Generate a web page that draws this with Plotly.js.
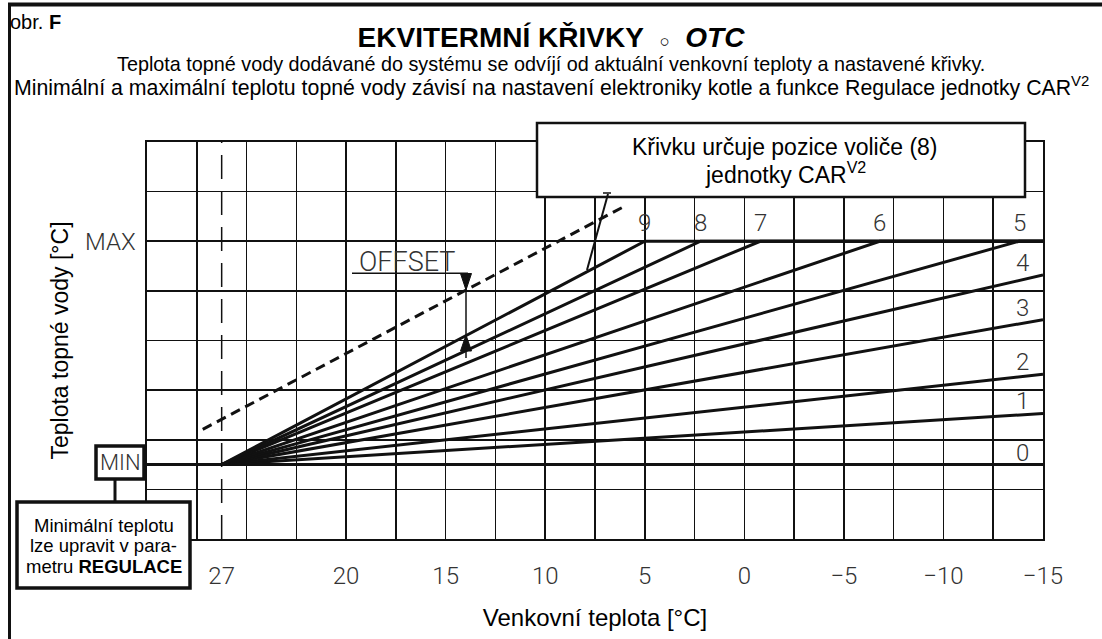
<!DOCTYPE html>
<html>
<head>
<meta charset="utf-8">
<script src="https://cdn.plot.ly/plotly-3.0.1.min.js"></script>
<style>html,body{margin:0;padding:0;background:#fff;overflow:hidden;}#chart{width:1102px;height:639px;}</style>
</head>
<body>
<div id="chart"></div>
<script>
// ---------- data ----------
const xTickVals = [26.25, 20, 15, 10, 5, 0, -5, -10, -15];
const xTickText = ['27', '20', '15', '10', '5', '0', '\u22125', '\u221210', '\u221215'];
const curveNames = ['0', '1', '2', '3', '4', '5', '6', '7', '8', '9'];
const kneeTemp = 26.25;          // outdoor temperature where curves start (labelled 27)
const minLevel = 1.5;            // MIN flow temperature level
const maxLevel = 6;              // MAX flow temperature level
const curveEndTemp  = [-15, -15, -15, -15, -15, -13.8, -6.8, -0.8, 2.2, 5.0];
const curveEndLevel = [1.5, 2.53, 3.32, 4.42, 5.32, 6, 6, 6, 6, 6];
const minLineTemp = [30, -15];
const offsetLineTemp  = [27.2, 5.9];
const offsetLineLevel = [2.21, 6.73];
const xRange = [30, -15];
const yRange = [0, 8];

// ---------- helpers (pixel -> paper for decorations) ----------
const ML = 147, MR = 59, MT = 142, MB = 100, W = 1102, H = 639;
const PW = W - ML - MR, PH = H - MT - MB;
const px = x => (x - ML) / PW;
const py = y => (H - MB - y) / PH;

const INK = '#111';
const thin = {family: 'Roboto', size: 24, color: '#333', weight: 300};
const arial = 'Liberation Sans, Arial, sans-serif';

// ---------- traces ----------
const traces = [];
traces.push({x: [kneeTemp, kneeTemp], y: yRange, mode: 'lines',
  line: {color: INK, width: 1.5, dash: '24px,12px'}, hoverinfo: 'skip'});
traces.push({x: minLineTemp, y: [minLevel, minLevel], mode: 'lines',
  line: {color: INK, width: 3}, hoverinfo: 'skip'});
curveNames.forEach((n, i) => {
  const xs = [kneeTemp, curveEndTemp[i]];
  const ys = [minLevel, curveEndLevel[i]];
  if (curveEndLevel[i] >= maxLevel && curveEndTemp[i] > xRange[1]) { xs.push(xRange[1]); ys.push(maxLevel); }
  traces.push({x: xs, y: ys, mode: 'lines', name: 'Křivka ' + n,
    line: {color: INK, width: 3}, hoverinfo: 'skip'});
});
traces.push({x: offsetLineTemp, y: offsetLineLevel, mode: 'lines',
  line: {color: INK, width: 3, dash: '10px,6px'}, hoverinfo: 'skip'});

// ---------- curve labels ----------
const annotations = curveNames.map((n, i) => {
  const atMax = curveEndLevel[i] >= maxLevel;
  return {x: curveEndTemp[i], y: curveEndLevel[i], xref: 'x', yref: 'y', text: n,
    showarrow: false, font: thin, xanchor: 'center', yanchor: 'middle',
    xshift: atMax ? 0 : -21, yshift: atMax ? 18 : 12};
});

const txt = (x, y, text, font, anchor) => ({x: px(x), y: py(y), xref: 'paper', yref: 'paper',
  text: text, showarrow: false, xanchor: anchor || 'center', yanchor: 'middle', font: font});
const f = (size, extra) => Object.assign({family: arial, size: size, color: '#000'}, extra || {});

annotations.push(
  txt(8, 22, 'obr. <b>F</b>', f(20), 'left'),
  txt(551, 64, 'Teplota topné vody dodávané do systému se odvíjí od aktuální venkovní teploty a nastavené křivky.', f(19.8)),
  txt(551, 86, 'Minimální a maximální teplotu topné vody závisí na nastavení elektroniky kotle a funkce Regulace jednotky CAR<sup>V2</sup>', f(21.3)),
  txt(785, 147, 'Křivku určuje pozice voliče (8)', f(23)),
  txt(785, 173, 'jednotky CAR<sup>V2</sup>', f(23)),
  txt(120, 462.5, 'MIN', {family: 'Roboto', size: 22, color: '#333', weight: 300}),
  txt(103.5, 525.5, 'Minimální teplotu', f(18.5)),
  txt(103.5, 545.5, 'lze upravit v para-', f(18.5)),
  txt(103.5, 566.5, 'metru <b>REGULACE</b>', f(18.5)),
  txt(407, 262, 'OFFSET', {family: 'Roboto', size: 27, color: '#333', weight: 300})
);

// ---------- shapes ----------
const L = (x0, y0, x1, y1, w) => ({type: 'line', xref: 'paper', yref: 'paper',
  x0: px(x0), y0: py(y0), x1: px(x1), y1: py(y1), line: {color: INK, width: w}});
const R = (x0, y0, x1, y1, w) => ({type: 'rect', xref: 'paper', yref: 'paper',
  x0: px(x0), y0: py(y0), x1: px(x1), y1: py(y1), line: {color: INK, width: w}, fillcolor: '#fff'});
const tri = pts => ({type: 'path', xref: 'paper', yref: 'paper',
  path: 'M' + pts.map(p => px(p[0]) + ',' + py(p[1])).join(' L') + ' Z',
  fillcolor: INK, line: {color: INK, width: 1}});

const shapes = [
  L(8, 4.5, 1102, 4.5, 4),
  L(9.5, 3, 9.5, 639, 3),
  R(537, 123, 1025, 197, 2.5),
  R(96, 446, 144, 479, 3.5),
  L(115, 479, 115, 502, 3),
  R(17, 502, 190, 588, 3.5),
  L(352, 273.3, 468, 273.3, 1.5),
  L(466, 273, 466, 358, 1.5),
  tri([[460.5, 273.5], [471.5, 273.5], [466, 290]]),
  tri([[460.5, 351], [471.5, 351], [466, 335]]),
  L(608, 194, 587, 270, 2),
  L(603, 193, 611, 193, 1.5)
];

const layout = {
  width: W, height: H,
  margin: {l: ML, r: MR, t: MT, b: MB, pad: 0},
  paper_bgcolor: '#fff', plot_bgcolor: '#fff',
  showlegend: false, hovermode: false,
  title: {text: '<b>EKVITERMNÍ KŘIVKY</b>  <span style="font-size:17px">\u25CB</span>  <b><i>OTC</i></b>',
    xref: 'container', yref: 'container',
    x: 0.5, y: 1 - 37 / H, xanchor: 'center', yanchor: 'middle',
    font: {family: arial, size: 28, color: '#000'}},
  xaxis: {range: xRange, tickmode: 'array', tickvals: xTickVals, ticktext: xTickText,
    ticks: '', ticklabelstandoff: 15, showgrid: false, zeroline: false,
    showline: true, mirror: true, linecolor: INK, linewidth: 1.6,
    tickfont: thin,
    minor: {dtick: 2.5, tick0: 0, showgrid: true, gridcolor: INK, gridwidth: 1.6, ticks: ''},
    title: {text: 'Venkovní teplota [°C]', standoff: 20,
      font: {family: arial, size: 24, color: '#000'}}},
  yaxis: {range: yRange, tickmode: 'array', tickvals: [maxLevel], ticktext: ['MAX'],
    ticks: '', ticklabelstandoff: 5, showgrid: false, zeroline: false,
    showline: true, mirror: true, linecolor: INK, linewidth: 1.6,
    tickfont: thin,
    minor: {dtick: 1, tick0: 0, showgrid: true, gridcolor: INK, gridwidth: 1.6, ticks: ''},
    title: {text: 'Teplota topné vody [°C]', standoff: 10,
      font: {family: arial, size: 23, color: '#000'}}},
  annotations: annotations,
  shapes: shapes
};

Plotly.newPlot('chart', traces, layout, {displayModeBar: false, staticPlot: true});
</script>
</body>
</html>
